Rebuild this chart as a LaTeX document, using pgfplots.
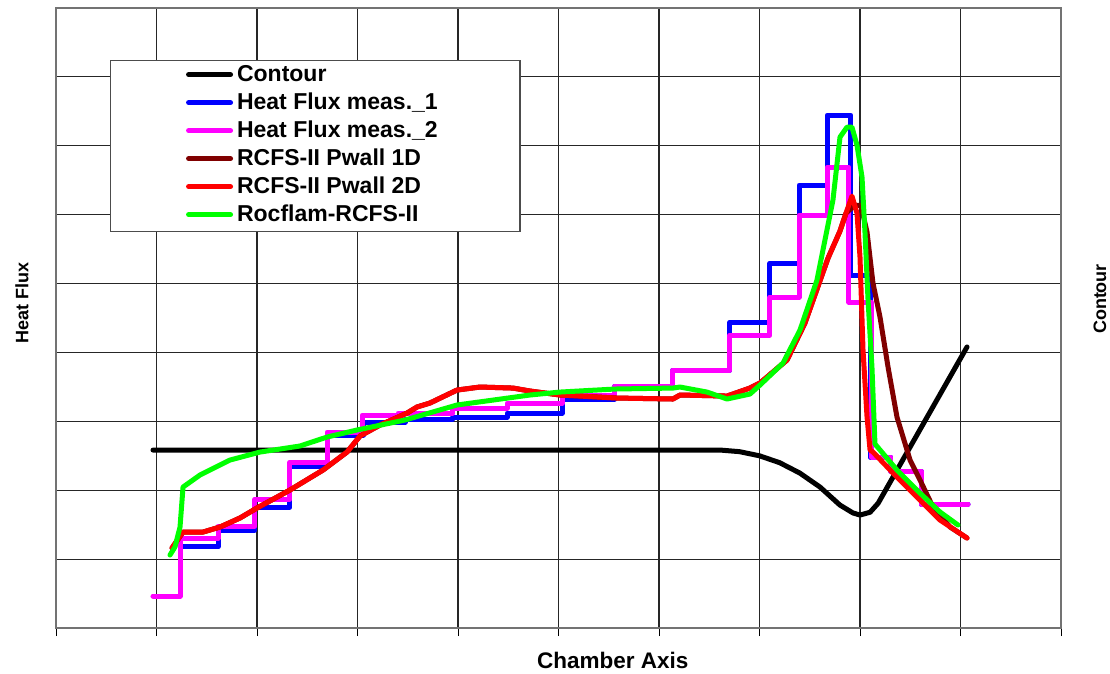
\documentclass[border=0pt]{standalone}
\usepackage{fontspec}
\setmainfont{Liberation Sans}
\usepackage{pgfplots}
\pgfplotsset{compat=1.18}
\definecolor{cBrown}{RGB}{128,0,0}
\definecolor{cMag}{RGB}{255,0,255}
\definecolor{cBlue}{RGB}{0,0,255}
\definecolor{cRed}{RGB}{255,0,0}
\definecolor{cGreen}{RGB}{0,255,0}
\begin{document}
\begin{tikzpicture}
\path[use as bounding box] (-56pt,-45pt) rectangle (1054pt,628pt);
\begin{axis}[
  at={(0pt,0pt)}, anchor=south west,
  scale only axis, width=1005pt, height=620pt,
  xmin=0, xmax=10, ymin=0, ymax=9,
  xtick={0,1,...,10}, ytick={0,1,...,9},
  xticklabels={}, yticklabels={},
  xtick pos=bottom, tick align=outside, major tick length=8pt,
  xtick style={black, line width=1pt},
  ytick style={draw=none},
  grid=major,
  major grid style={black!85, line width=1.1pt},
  axis line style={black!55, line width=1.6pt},
  font=\bfseries,
  xlabel={Chamber Axis}, ylabel={Heat Flux},
  xlabel style={font=\fontsize{22.5}{26}\bfseries\selectfont, at={(axis description cs:0.554,-0.052)}, anchor=center},
  ylabel style={font=\fontsize{18}{22}\bfseries\selectfont, at={(axis description cs:-0.034,0.524)}, anchor=center},
  legend style={at={(axis description cs:0.0537,0.916)}, anchor=north west,
    draw=black!70, line width=1.2pt, fill=white, inner xsep=3pt, inner ysep=3.5pt,
    row sep=4pt, column sep=3pt,
    font=\fontsize{23}{27}\bfseries\selectfont,
    nodes={inner xsep=1pt, inner ysep=2pt, text height=15.5pt, text depth=4.5pt}},
  legend cell align=left,
  legend image code/.code={\path[draw=none, fill=none] (0pt,-5pt) rectangle (119pt,5pt); \draw[#1, line width=5pt, line cap=round] (75pt,1.5pt) -- (117pt,1.5pt);},
]
% Contour
\addplot[black, line width=5pt, line join=round, line cap=round] coordinates {(0.965,2.583) (6.61,2.583) (6.8,2.56) (7.0,2.50) (7.2,2.40) (7.4,2.25) (7.602,2.046) (7.80,1.785) (7.93,1.67) (8.0,1.64) (8.10,1.68) (8.18,1.81) (9.065,4.08)};
\addlegendentry{\makebox[279pt][l]{Contour}}
% Heat flux meas 1
\addplot[cBlue, const plot, line width=5pt, line join=round, line cap=round] coordinates {(1.254,1.176) (1.612,1.422) (1.980,1.756) (2.328,2.351) (2.697,2.801) (3.06,2.990) (3.473,3.033) (3.950,3.062) (4.488,3.120) (5.035,3.324) (5.562,3.512) (6.139,3.745) (6.706,4.441) (7.104,5.298) (7.393,6.430) (7.672,7.446) (7.910,5.123) (8.100,2.482) (8.308,2.279) (8.607,1.800) (9.075,1.800)};
\addlegendentry{\makebox[279pt][l]{Heat Flux meas.\_1}}
% Heat flux meas 2
\addplot[cMag, const plot, line width=5pt, line join=round, line cap=round] coordinates {(0.965,0.464) (1.234,1.306) (1.612,1.480) (1.980,1.872) (2.328,2.409) (2.697,2.845) (3.045,3.091) (3.403,3.120) (3.950,3.193) (4.488,3.266) (5.035,3.382) (5.562,3.512) (6.139,3.745) (6.706,4.253) (7.104,4.804) (7.393,5.994) (7.672,6.691) (7.890,4.731) (8.119,2.482) (8.308,2.279) (8.607,1.800) (9.075,1.800)};
\addlegendentry{\makebox[279pt][l]{Heat Flux meas.\_2}}
% RCFS-II Pwall 1D
\addplot[cBrown, line width=5pt, line join=round, line cap=round] coordinates {(1.154,1.161) (1.264,1.393) (1.463,1.393) (1.632,1.466) (1.831,1.597) (2.000,1.742) (2.328,2.003) (2.657,2.293) (2.896,2.554) (3.025,2.787) (3.224,2.946) (3.493,3.120) (3.592,3.208) (3.721,3.266) (3.990,3.454) (4.219,3.498) (4.547,3.483) (4.716,3.440) (5.015,3.382) (5.582,3.338) (6.139,3.324) (6.209,3.382) (6.677,3.367) (6.905,3.483) (7.005,3.556) (7.274,3.890) (7.452,4.426) (7.682,5.370) (7.801,5.762) (7.861,6.023) (7.950,6.139) (8.010,6.130) (8.070,5.747) (8.129,5.007) (8.199,4.514) (8.279,3.788) (8.368,3.062) (8.498,2.438) (8.597,2.148) (8.726,1.756) (8.896,1.466) (9.065,1.306)};
\addlegendentry{\makebox[279pt][l]{RCFS-II Pwall 1D}}
% RCFS-II Pwall 2D
\addplot[cRed, line width=5pt, line join=round, line cap=round] coordinates {(1.154,1.161) (1.264,1.393) (1.463,1.393) (1.632,1.466) (1.831,1.597) (2.000,1.742) (2.328,2.003) (2.657,2.293) (2.896,2.554) (3.025,2.787) (3.224,2.946) (3.493,3.120) (3.592,3.208) (3.721,3.266) (3.990,3.454) (4.219,3.498) (4.547,3.483) (4.716,3.440) (5.015,3.382) (5.582,3.338) (6.139,3.324) (6.209,3.382) (6.677,3.367) (6.905,3.483) (7.005,3.556) (7.274,3.890) (7.452,4.426) (7.682,5.370) (7.801,5.762) (7.861,6.023) (7.920,6.270) (7.970,6.023) (8.000,5.385) (8.030,4.035) (8.070,3.062) (8.100,2.583) (8.129,2.554) (8.328,2.250) (8.597,1.858) (8.796,1.567) (9.065,1.306)};
\addlegendentry{\makebox[279pt][l]{RCFS-II Pwall 2D}}
% Rocflam-RCFS-II
\addplot[cGreen, line width=5pt, line join=round, line cap=round] coordinates {(1.134,1.059) (1.184,1.176) (1.234,1.466) (1.264,2.046) (1.433,2.221) (1.731,2.438) (2.030,2.554) (2.428,2.642) (2.697,2.772) (2.995,2.874) (3.473,3.019) (3.990,3.237) (4.716,3.382) (5.015,3.425) (5.562,3.469) (6.139,3.483) (6.209,3.498) (6.478,3.425) (6.677,3.324) (6.905,3.396) (7.005,3.527) (7.234,3.846) (7.403,4.325) (7.572,5.051) (7.731,6.212) (7.801,7.126) (7.871,7.271) (7.920,7.271) (7.970,7.010) (8.020,6.546) (8.050,5.733) (8.080,4.761) (8.119,3.788) (8.149,2.671) (8.368,2.293) (8.597,1.959) (8.796,1.684) (8.975,1.495)};
\addlegendentry{\makebox[279pt][l]{Rocflam-RCFS-II}}
\end{axis}
\node[rotate=90, font=\fontsize{18}{22}\bfseries\selectfont] at (1044pt,329pt) {Contour};
\end{tikzpicture}
\end{document}
